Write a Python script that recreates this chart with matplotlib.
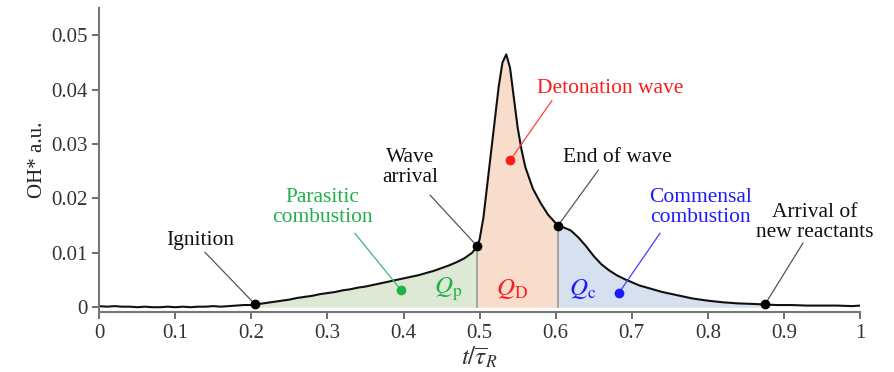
import numpy as np
import matplotlib.pyplot as plt

plt.rcParams['font.family'] = ['Liberation Serif', 'DejaVu Serif']
plt.rcParams['mathtext.fontset'] = 'stix'

# OH* signal (t / tau_R, OH* a.u.)
t = [0.0, 0.01, 0.02, 0.03, 0.04, 0.05, 0.06, 0.07, 0.08, 0.09, 0.10, 0.11, 0.12, 0.13,
     0.14, 0.15, 0.16, 0.17, 0.18, 0.19, 0.20, 0.205, 0.21, 0.22, 0.23, 0.24, 0.25, 0.26,
     0.27, 0.28, 0.29, 0.30, 0.31, 0.32, 0.33, 0.34, 0.35, 0.36, 0.37, 0.38, 0.39, 0.40,
     0.41, 0.42, 0.43, 0.44, 0.45, 0.46, 0.47, 0.48, 0.49, 0.497, 0.50, 0.505, 0.51,
     0.515, 0.52, 0.525, 0.53, 0.535, 0.54, 0.545, 0.55, 0.555, 0.56, 0.57, 0.58, 0.59,
     0.603, 0.61, 0.62, 0.63, 0.64, 0.65, 0.66, 0.67, 0.68, 0.69, 0.70, 0.71, 0.72, 0.73,
     0.74, 0.75, 0.76, 0.77, 0.78, 0.79, 0.80, 0.82, 0.84, 0.86, 0.875, 0.89, 0.91, 0.93,
     0.95, 0.97, 0.99, 1.0]
oh = [0.0002, 0.0001, 0.0002, 0.0001, 0.0001, 0.0000, 0.0001, 0.0000, 0.0000, 0.0001,
      0.0000, 0.0001, 0.0000, 0.0001, 0.0001, 0.0002, 0.0001, 0.0002, 0.0003, 0.0004,
      0.0004, 0.0005, 0.0006, 0.0008, 0.0010, 0.0012, 0.0014, 0.0017, 0.0019, 0.0021,
      0.0024, 0.0026, 0.0028, 0.0031, 0.0033, 0.0036, 0.0038, 0.0041, 0.0044, 0.0047,
      0.0050, 0.0053, 0.0056, 0.0059, 0.0063, 0.0067, 0.0072, 0.0077, 0.0083, 0.0090,
      0.0100, 0.0112, 0.0125, 0.0165, 0.0225, 0.0285, 0.0345, 0.0405, 0.0450, 0.0465,
      0.0440, 0.0385, 0.0330, 0.0290, 0.0258, 0.0218, 0.0192, 0.0170, 0.0150, 0.0147,
      0.0141, 0.0128, 0.0112, 0.0094, 0.0079, 0.0068, 0.0059, 0.0052, 0.0046, 0.0040,
      0.0036, 0.0032, 0.0028, 0.0025, 0.0022, 0.0019, 0.0016, 0.0014, 0.0012, 0.0009,
      0.0007, 0.0006, 0.0005, 0.0004, 0.0004, 0.0003, 0.0003, 0.0003, 0.0002, 0.0003]

t_ignition, t_wave, t_end, t_new = 0.205, 0.497, 0.603, 0.875

t = np.array(t)
oh = np.array(oh)

fig = plt.figure(figsize=(8.94, 3.72), dpi=100)
ax = fig.add_axes([0.111, 0.161, 0.851, 0.817])

# shaded regions
m = (t >= t_ignition) & (t <= t_wave)
ax.fill_between(t[m], 0, oh[m], color='#dde9d5', lw=0)
m = (t >= t_wave) & (t <= t_end)
ax.fill_between(t[m], 0, oh[m], color='#f8ddcd', lw=0)
m = (t >= t_end) & (t <= t_new)
ax.fill_between(t[m], 0, oh[m], color='#d7e0ef', lw=0)
for tv in [t_wave, t_end]:
    ax.plot([tv, tv], [0, np.interp(tv, t, oh)], color='#999999', lw=1.2)

ax.plot(t, oh, color='#111111', lw=1.5)

# event markers
events = [t_ignition, t_wave, t_end, t_new]
ax.plot(events, np.interp(events, t, oh), 'o', color='black', ms=6, zorder=5)


def note(text, text_xy, start, target, color, line_color, dot=False):
    ax.text(*text_xy, text, ha='center', va='center', fontsize=15.5, color=color,
            linespacing=1.05)
    ax.plot([start[0], target[0]], [start[1], target[1]], color=line_color, lw=0.9)
    if dot:
        ax.plot(*target, 'o', color=color, ms=6, zorder=5)


note('Ignition', (0.133, 0.0123), (0.139, 0.0101),
     (t_ignition, np.interp(t_ignition, t, oh)), '#111111', '#555555')
note('Wave\narrival', (0.409, 0.0257), (0.435, 0.0206),
     (t_wave, np.interp(t_wave, t, oh)), '#111111', '#555555')
note('End of wave', (0.681, 0.0276), (0.656, 0.0252),
     (t_end, np.interp(t_end, t, oh)), '#111111', '#555555')
note('Arrival of\nnew reactants', (0.941, 0.0156), (0.925, 0.0118),
     (t_new, np.interp(t_new, t, oh)), '#111111', '#555555')
note('Parasitic\ncombustion', (0.293, 0.0184), (0.336, 0.0136),
     (0.397, 0.0031), '#22b04b', '#3cb878', dot=True)
note('Detonation wave', (0.671, 0.0403), (0.595, 0.0380),
     (0.540, 0.0270), '#ff1a1a', '#ff4040', dot=True)
note('Commensal\ncombustion', (0.790, 0.0184), (0.737, 0.0136),
     (0.683, 0.0026), '#1a1aff', '#4040ff', dot=True)

ax.text(0.458, 0.0033, r'$Q_\mathrm{p}$', color='#22b04b', fontsize=18, ha='center', va='center')
ax.text(0.543, 0.0033, r'$Q_\mathrm{D}$', color='#ff1a1a', fontsize=18, ha='center', va='center')
ax.text(0.635, 0.0033, r'$Q_\mathrm{c}$', color='#1a1aff', fontsize=18, ha='center', va='center')

ax.set_xlim(0, 1)
ax.set_ylim(-0.0009, 0.055)
ax.set_xticks(np.arange(0, 1.01, 0.1))
ax.set_xticklabels(['0', '0.1', '0.2', '0.3', '0.4', '0.5', '0.6', '0.7', '0.8', '0.9', '1'])
ax.set_yticks([0, 0.01, 0.02, 0.03, 0.04, 0.05])
ax.set_yticklabels(['0', '0.01', '0.02', '0.03', '0.04', '0.05'])
ax.tick_params(labelsize=15, colors='#555555', labelcolor='#333333', width=1.2, length=5)
ax.set_xlabel(r'$t/\overline{\tau}_R$', fontsize=18, color='#333333', labelpad=1)
ax.set_ylabel('OH* a.u.', fontsize=15, color='#222222', labelpad=3)
for s in ['top', 'right']:
    ax.spines[s].set_visible(False)
for s in ['left', 'bottom']:
    ax.spines[s].set_color('#777777')
    ax.spines[s].set_linewidth(1.5)

fig.savefig('out.png', dpi=100)
